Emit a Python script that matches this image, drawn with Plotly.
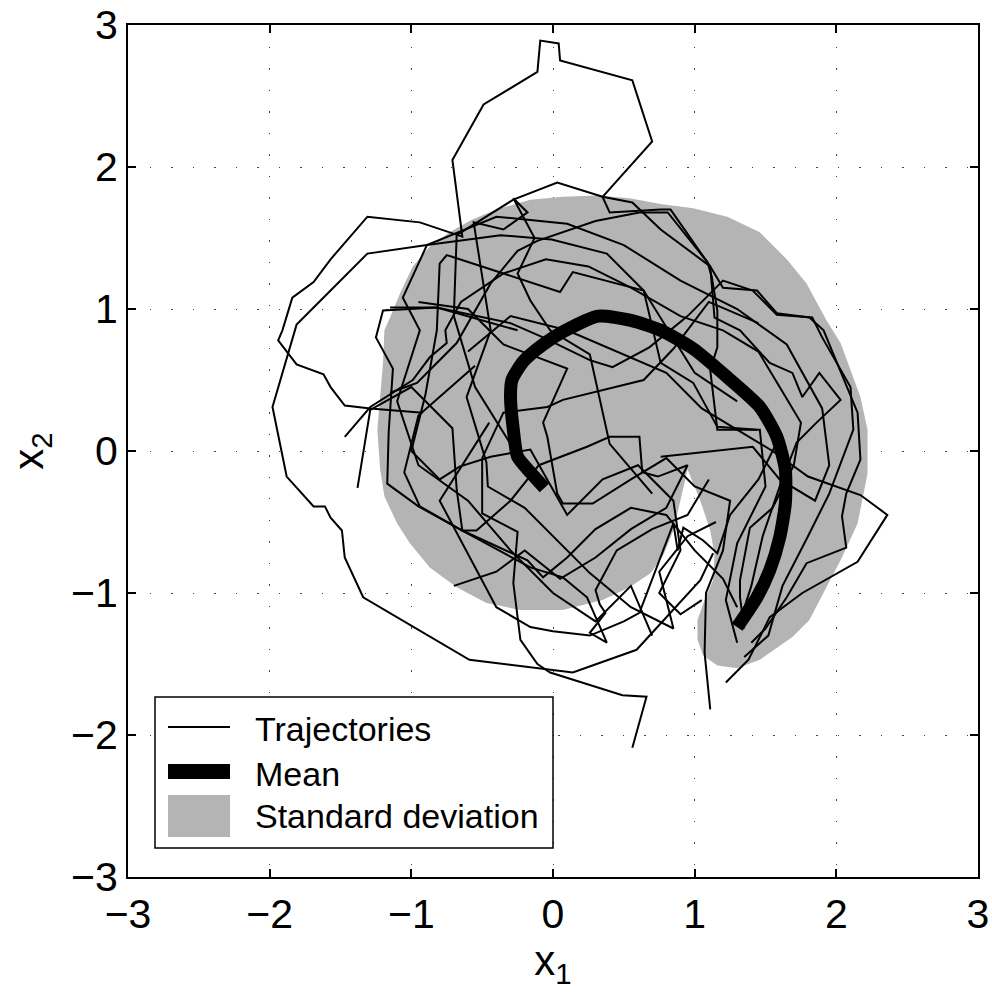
import plotly.graph_objects as go

# ---- axis ticks ----
tick_vals = [-3, -2, -1, 0, 1, 2, 3]

# ---- mean trajectory ----
mean_x = [-0.06, -0.16, -0.25, -0.28, -0.30, -0.29, -0.21, -0.07, 0.07, 0.32, 0.55,
          0.76, 0.99, 1.23, 1.46, 1.58, 1.64, 1.64, 1.60, 1.53, 1.44, 1.30]
mean_y = [-0.26, -0.15, -0.04, 0.15, 0.38, 0.50, 0.63, 0.75, 0.84, 0.95, 0.92,
          0.85, 0.72, 0.52, 0.31, 0.10, -0.13, -0.37, -0.61, -0.84, -1.03, -1.24]

# ---- outline of the standard-deviation band ----
sd_x = [-1.15, -1.08, -0.99, -0.87, -0.73, -0.57, -0.40, -0.16, 0.07, 0.31, 0.54, 0.76,
        0.99, 1.23, 1.46, 1.65, 1.79, 1.93, 2.03, 2.08, 2.17, 2.22, 2.22, 2.15, 2.03,
        1.93, 1.81, 1.69, 1.46, 1.30, 1.16, 1.06, 1.02, 1.02, 1.07, 1.13, 1.14, 1.11,
        1.04, 0.95, 0.90, 0.85, 0.78, 0.69, 0.54, 0.35, 0.07, -0.23, -0.47, -0.68,
        -0.87, -1.01, -1.10, -1.19, -1.22, -1.24, -1.22, -1.20, -1.19]
sd_y = [0.94, 1.11, 1.30, 1.44, 1.54, 1.63, 1.70, 1.77, 1.79, 1.80, 1.78, 1.74,
        1.71, 1.65, 1.54, 1.35, 1.18, 0.92, 0.76, 0.62, 0.38, 0.15, -0.16, -0.51, -0.77,
        -0.96, -1.19, -1.31, -1.47, -1.53, -1.51, -1.44, -1.33, -1.19, -1.05, -0.91, -0.73, -0.56,
        -0.35, -0.13, -0.35, -0.56, -0.73, -0.86, -0.96, -1.05, -1.12, -1.12, -1.07, -0.96,
        -0.82, -0.65, -0.51, -0.32, -0.13, 0.15, 0.38, 0.62, 0.85]

# ---- individual sample trajectories, (x1, x2) pairs ----
traj_01 = [(-0.92, 0.27), (-1.29, 0.30), (-1.47, 0.32), (-1.57, 0.45), (-1.62, 0.54),
           (-1.81, 0.61), (-1.94, 0.78), (-1.91, 0.85), (-1.84, 1.08), (-1.69, 1.19),
           (-1.57, 1.35), (-1.31, 1.65), (-0.94, 1.61), (-0.64, 1.51), (-0.71, 2.05),
           (-0.49, 2.44), (-0.11, 2.67), (-0.09, 2.89), (0.04, 2.87), (0.05, 2.75),
           (0.56, 2.61), (0.70, 2.18), (0.35, 1.79), (0.40, 1.68), (0.76, 1.70),
           (0.83, 1.70), (1.11, 1.30), (1.14, 0.94), (1.32, 0.85), (1.53, 0.62),
           (1.69, 0.55), (1.76, 0.38), (1.88, 0.55), (2.03, 0.36), (1.86, 0.20),
           (1.72, 0.06), (1.60, -0.25), (1.48, -0.60), (1.40, -0.95), (1.32, -1.20)]
traj_02 = [(1.44, 0.15), (1.16, 0.17), (0.99, 0.48), (0.76, 0.62), (0.64, 1.13),
           (0.38, 1.39), (-0.01, 1.49), (-0.37, 1.52), (-0.89, 1.45), (-1.31, 1.39),
           (-1.57, 1.13), (-1.81, 0.89), (-1.98, 0.31), (-1.88, -0.18), (-1.69, -0.39),
           (-1.61, -0.39), (-1.57, -0.47), (-1.49, -0.56), (-1.47, -0.75), (-1.34, -1.03),
           (-0.59, -1.47), (-0.04, -1.54), (0.14, -1.56), (0.59, -1.40), (1.04, -0.91),
           (1.13, -0.72)]
traj_03 = [(1.45, 0.90), (1.10, 1.05), (0.85, 0.72), (0.64, 0.50), (0.07, 0.36),
           (-0.04, 0.31), (-0.35, 0.27), (-0.50, -0.05), (-0.50, -0.44), (-0.25, -0.57),
           (-0.28, -0.93), (-0.23, -1.33), (-0.11, -1.50), (-0.02, -1.56), (0.49, -1.72),
           (0.66, -1.73), (0.56, -2.09)]
traj_04 = [(-0.60, 0.70), (-0.30, 0.95), (0.10, 0.85), (0.45, 0.70), (0.80, 0.55),
           (1.05, 0.30), (1.30, 0.15), (1.55, 0.00), (1.80, -0.18), (2.00, -0.25),
           (2.17, -0.31), (2.36, -0.45), (2.15, -0.78), (1.76, -1.00), (1.53, -1.17),
           (1.38, -1.47), (1.22, -1.63)]
traj_05 = [(-0.95, 1.05), (-0.60, 1.00), (-0.35, 0.75), (0.10, 0.58), (-0.07, 0.20),
           (-0.04, 0.10), (0.03, -0.30), (0.07, -0.37), (0.28, -0.37), (0.55, -0.20),
           (0.80, -0.05), (1.00, -0.25), (1.25, -0.35), (1.20, -0.70), (1.08, -1.00),
           (1.07, -1.42), (1.11, -1.82)]
traj_06 = [(-1.47, 0.10), (-1.29, 0.31), (-0.99, 0.50), (-0.87, 0.66), (-0.75, 0.76),
           (-0.76, 0.85), (-0.65, 1.05), (-0.35, 1.25), (-0.05, 1.35), (0.25, 1.30),
           (0.55, 1.15), (0.90, 0.95), (1.20, 0.85), (1.45, 0.70), (1.60, 0.45),
           (1.75, 0.20), (1.70, -0.10), (1.55, -0.40), (1.39, -0.54), (1.32, -0.91),
           (1.32, -1.03), (1.35, -1.25)]
traj_07 = [(-1.38, -0.26), (-1.29, 0.29), (-1.00, 0.45), (-0.71, 0.16), (-0.68, -0.27),
           (-0.64, -0.56), (-0.54, -0.56), (-0.30, -0.35), (-0.10, -0.10), (0.24, 0.03),
           (0.40, 0.10), (0.61, 0.10), (0.63, -0.15), (0.74, -0.18), (0.95, -0.10),
           (0.80, -0.40), (0.55, -0.55), (0.30, -0.75), (0.05, -0.90), (-0.20, -0.70),
           (-0.40, -0.85), (-0.70, -0.95)]
traj_08 = [(-0.30, 0.05), (-0.55, 0.45), (-0.70, 0.95), (-0.68, 1.52), (-0.28, 1.77),
           (0.03, 1.89), (0.35, 1.79), (0.56, 1.75), (0.76, 1.56), (1.11, 1.30),
           (1.20, 1.15), (1.44, 1.13), (1.58, 0.97), (1.81, 0.94), (1.91, 0.85),
           (2.15, 0.27), (2.17, -0.06), (2.07, -0.30), (2.04, -0.46), (2.07, -0.68),
           (1.79, -0.79), (1.65, -1.03), (1.50, -1.25), (1.40, -1.35)]
traj_09 = [(0.70, -0.30), (0.40, 0.05), (0.26, 0.68), (-0.02, 0.85), (-0.16, 1.06),
           (-0.25, 1.25), (-0.13, 1.50), (-0.28, 1.78), (-0.18, 1.68), (-0.35, 1.56),
           (-0.56, 1.61), (-0.44, 0.85), (-0.61, 0.38), (-0.47, -0.08), (-0.46, -0.25),
           (-0.20, -0.40), (0.26, -0.86), (0.55, -1.10), (0.85, -1.25), (0.75, -0.85),
           (0.95, -0.60), (1.15, -0.50)]
traj_10 = [(1.30, 0.35), (1.00, 0.55), (0.64, 1.13), (0.14, 1.26), (0.05, 1.12),
           (-0.75, 1.38), (-0.80, 1.32), (-0.82, 0.85), (-0.90, 0.40), (-1.00, 0.00),
           (-0.80, -0.20), (-0.66, -0.11), (-0.44, -0.04), (-0.16, 0.01), (0.10, -0.45),
           (0.35, -0.20), (0.60, -0.10), (0.85, -0.35), (0.90, -0.70), (0.75, -1.00),
           (0.90, -1.15), (1.05, -1.05)]
traj_11 = [(-0.25, 0.85), (-0.82, 1.01), (-1.20, 0.99), (-1.25, 0.80), (-1.13, 0.58),
           (-1.16, 0.13), (-1.17, -0.23), (-0.95, -0.39), (-0.64, -0.56), (-0.18, -0.77),
           (-0.07, -0.89), (0.10, -0.75), (0.30, -0.55), (0.55, -0.40), (0.80, -0.45),
           (1.00, -0.70), (1.20, -0.90), (1.30, -1.10)]
traj_12 = [(0.76, -0.04), (1.41, 0.03), (1.60, -0.20), (1.85, -0.35), (1.95, -0.10),
           (1.90, 0.30), (1.65, 0.75), (1.30, 1.00), (0.90, 1.20), (0.50, 1.45),
           (0.10, 1.60), (-0.40, 1.65), (-0.89, 1.45), (-1.06, 1.08), (-0.94, 0.85),
           (-1.10, 0.35), (-0.95, -0.10), (-0.60, -0.35), (-0.30, -0.70), (0.00, -1.00),
           (0.30, -1.20), (0.55, -0.95), (0.70, -1.30)]
traj_13 = [(-1.15, 0.41), (-0.96, 0.48), (-0.68, 0.76), (-0.44, 1.18), (-0.25, 1.41),
           (-0.11, 1.48), (0.30, 1.62), (0.61, 1.68), (0.81, 1.68), (1.09, 1.33),
           (1.12, 1.23), (1.16, 0.99), (1.16, 0.73), (1.11, 0.57), (1.16, 0.15),
           (1.46, 0.15), (1.50, -0.25), (1.30, -0.65), (1.22, -1.05), (1.30, -1.35)]
traj_14 = [(-1.15, 1.01), (-0.82, 1.01), (-0.30, 0.90), (-0.07, 0.80), (0.26, 0.64),
           (0.42, 0.59), (0.68, 0.73), (0.95, 0.95), (1.20, 1.20), (1.41, 1.13),
           (1.58, 0.96), (1.83, 0.94), (1.90, 0.80), (2.10, 0.45), (2.12, 0.15),
           (1.95, -0.30), (1.80, -0.60), (1.62, -0.95), (1.52, -1.30), (1.35, -1.45)]
traj_15 = [(-0.55, 0.60), (-0.95, 0.25), (-1.05, -0.15), (-0.94, -0.39), (-0.64, -0.56),
           (-0.16, -0.82), (0.07, -0.89), (0.24, -1.03), (0.38, -1.35), (0.26, -1.28),
           (0.37, -1.14), (0.33, -1.08), (0.30, -0.98), (0.45, -0.70), (0.70, -0.55),
           (0.95, -0.45), (1.10, -0.20)]
traj_16 = [(-0.45, 0.20), (-0.80, -0.35), (-0.40, -1.10), (-0.16, -1.24), (0.00, -1.27),
           (0.26, -1.30), (0.50, -1.20), (0.61, -1.14), (0.85, -0.51), (0.88, -0.70),
           (0.92, -0.54), (1.06, -0.63), (1.16, -0.72), (1.25, -0.45), (1.45, -0.20),
           (1.60, 0.10)]

trajectories = [traj_01, traj_02, traj_03, traj_04, traj_05, traj_06, traj_07, traj_08,
                traj_09, traj_10, traj_11, traj_12, traj_13, traj_14, traj_15, traj_16]

legend_labels = ["Trajectories", "Mean", "Standard deviation"]

GRAY = "#b4b4b4"
FONT = "Liberation Sans, Arial, Helvetica, sans-serif"

fig = go.Figure()

# standard deviation band
fig.add_trace(go.Scatter(x=sd_x, y=sd_y, mode="lines", fill="toself",
                         fillcolor=GRAY, line=dict(width=0, color=GRAY),
                         hoverinfo="skip", showlegend=False))

# sample trajectories
for tr in trajectories:
    fig.add_trace(go.Scatter(x=[p[0] for p in tr], y=[p[1] for p in tr],
                             mode="lines", line=dict(color="black", width=2),
                             showlegend=False))

# mean trajectory
fig.add_trace(go.Scatter(x=mean_x, y=mean_y, mode="lines",
                         line=dict(color="black", width=13, shape="spline", smoothing=0.6),
                         showlegend=False))

axis_common = dict(
    range=[-3, 3], tickvals=tick_vals, ticks="inside", ticklen=8, tickwidth=2,
    tickcolor="black", showline=True, linewidth=2, linecolor="black",
    mirror="allticks", showgrid=True, gridcolor="#444444", gridwidth=1.3,
    griddash="1.5px,20px", zeroline=False, automargin=False,
    tickfont=dict(family=FONT, size=41, color="black"),
)

fig.update_layout(
    width=992, height=997,
    margin=dict(l=128, r=14, t=25, b=120, autoexpand=False),
    paper_bgcolor="white", plot_bgcolor="white",
    xaxis=dict(axis_common, title=dict(text="x<sub>1</sub>", standoff=6,
                                       font=dict(family=FONT, size=42, color="black"))),
    yaxis=dict(axis_common, title=dict(text="x<sub>2</sub>", standoff=14,
                                       font=dict(family=FONT, size=42, color="black"))),
    showlegend=False,
)

# legend box drawn in paper coordinates
def px_x(p):
    return (p - 128) / 850.0

def px_y(p):
    return (877 - p) / 852.0

shapes = [
    dict(type="rect", xref="paper", yref="paper", x0=px_x(155), x1=px_x(553),
         y0=px_y(848), y1=px_y(697), line=dict(color="black", width=1.5),
         fillcolor="white", layer="above"),
    dict(type="line", xref="paper", yref="paper", x0=px_x(168), x1=px_x(230),
         y0=px_y(727), y1=px_y(727), line=dict(color="black", width=2), layer="above"),
    dict(type="rect", xref="paper", yref="paper", x0=px_x(168), x1=px_x(230),
         y0=px_y(779), y1=px_y(764), line=dict(width=0), fillcolor="black", layer="above"),
    dict(type="rect", xref="paper", yref="paper", x0=px_x(168), x1=px_x(230),
         y0=px_y(837), y1=px_y(795), line=dict(width=0), fillcolor=GRAY, layer="above"),
]
fig.update_layout(shapes=shapes)

for label, cy in zip(legend_labels, [729, 774, 816]):
    fig.add_annotation(x=px_x(253), y=px_y(cy), xref="paper", yref="paper",
                       text=label, showarrow=False, xanchor="left", yanchor="middle",
                       font=dict(family=FONT, size=34, color="black"))

fig.write_html("out.html")
